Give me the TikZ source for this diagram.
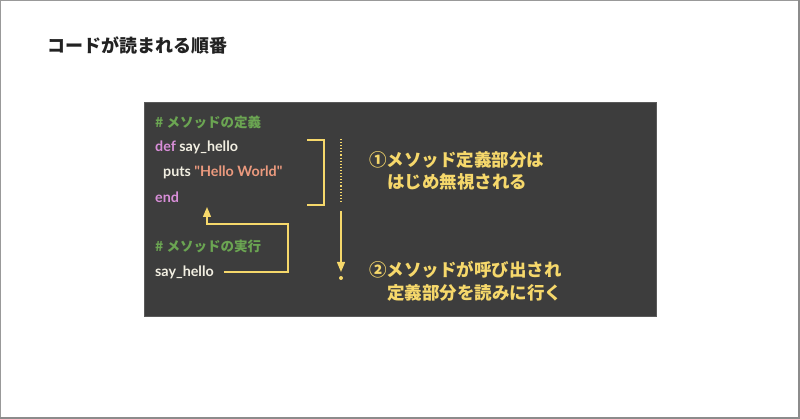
\documentclass[tikz,border=0pt]{standalone}
\usepackage{fontspec}
\setmainfont{Noto Sans CJK JP}
\newfontfamily\latfont{Lato}
\usetikzlibrary{arrows.meta}
\definecolor{bgdark}{HTML}{3D3D3D}
\definecolor{boxedge}{HTML}{5A5A5A}
\definecolor{cmt}{HTML}{6BA552}
\definecolor{kw}{HTML}{D88ED8}
\definecolor{str}{HTML}{EC9A7E}
\definecolor{txt}{HTML}{F2EFE2}
\definecolor{ylw}{HTML}{F6D86B}
\definecolor{ttl}{HTML}{222222}
\tikzset{
  code/.style={anchor=west, inner sep=0pt, font=\fontsize{13.5}{14}\selectfont\bfseries, text=txt},
  lcode/.style={code, font=\fontsize{14.3}{14}\selectfont\latfont\bfseries},
  note/.style={anchor=north west, inner sep=0pt, font=\fontsize{17.5}{22.5}\selectfont\bfseries, text=ylw, align=left},
  yl/.style={draw=ylw, line width=1.3pt},
  tip/.style={-{Triangle[width=8pt,length=10pt]}}
}
\begin{document}
\begin{tikzpicture}[x=1pt,y=-1pt]
\path[use as bounding box] (0,0) rectangle (800,419);
\draw[gray!80, line width=1pt] (0.5,0.5) rectangle (798.5,417.5);
\draw[gray!90, line width=2pt] (799,0) -- (799,419) (0,418) -- (800,418);
\node[anchor=west, inner sep=0pt, font=\fontsize{18}{20}\selectfont\bfseries, text=ttl] (title) at (47,46) {コードが読まれる順番};
\draw[fill=bgdark, draw=boxedge, line width=0.8pt] (144,102) rectangle (656,316);
\node[code, text=cmt] (c1) at (155,122) {\# メソッドの定義};
\node[lcode] (c2) at (155,147) {\textcolor{kw}{def} say\_hello};
\node[lcode] (c3) at (163,172) {puts \textcolor{str}{"Hello World"}};
\node[lcode, text=kw] (c4) at (155,197) {end};
\node[code, text=cmt] (c5) at (155,246) {\# メソッドの実行};
\node[lcode] (c6) at (155,272) {say\_hello};
% bracket
\draw[yl] (307,140) -- (324,140) -- (324,205) -- (307,205);
% call arrow
\coordinate (tgt) at (207,207);
\draw[yl, tip] ([xshift=10pt]c6.east) -- (288,272) -- (288,224) -- (207,224) -- (tgt);
% flow
\coordinate (d1) at (341,139);
\coordinate (d2) at (341,204);
\coordinate (s1) at (341,211);
\coordinate (s2) at (341,272);
\draw[ylw, line width=1.1pt, dotted] (d1) -- (d2);
\draw[yl, tip] (s1) -- (s2);
\fill[ylw] (341,278) circle (2pt);
\node[note] (n1) at (369,151) {①メソッド定義部分は\\\hspace*{18pt}はじめ無視される};
\node[note] (n2) at (369,261) {②メソッドが呼び出され\\\hspace*{18pt}定義部分を読みに行く};
\end{tikzpicture}
\end{document}
